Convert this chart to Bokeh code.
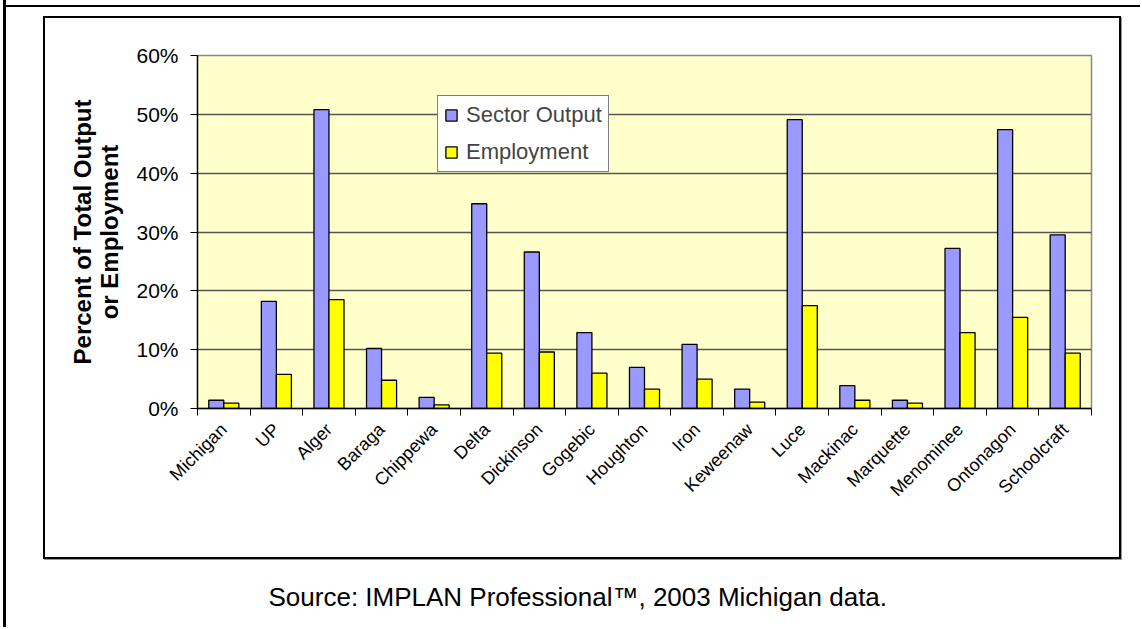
import numpy as np
from math import pi
from bokeh.plotting import figure
from bokeh.models import (ColumnDataSource, Range1d, FixedTicker, NumeralTickFormatter,
                          Legend, LegendItem, Title)
from bokeh.embed import file_html
from bokeh.resources import INLINE

# ---------------- data ----------------
counties = ["Michigan", "UP", "Alger", "Baraga", "Chippewa", "Delta", "Dickinson",
            "Gogebic", "Houghton", "Iron", "Keweenaw", "Luce", "Mackinac",
            "Marquette", "Menominee", "Ontonagon", "Schoolcraft"]
sector_output = [1.4, 18.2, 50.8, 10.2, 1.9, 34.8, 26.6, 12.9, 7.0, 10.9, 3.3,
                 49.1, 3.9, 1.4, 27.2, 47.4, 29.5]
employment = [0.9, 5.8, 18.5, 4.8, 0.6, 9.4, 9.6, 6.0, 3.3, 5.0, 1.1,
              17.5, 1.4, 0.9, 12.9, 15.5, 9.4]
y_ticks = [0, 10, 20, 30, 40, 50, 60]
series_names = ["Sector Output", "Employment"]
y_title = ["Percent of Total Output", "or Employment"]
source_note = "Source: IMPLAN Professional\u2122, 2003 Michigan data."

FONT = "Liberation Sans"
n = len(counties)
bar_w = 1 / 3.5
centers = np.arange(n) + 0.5

src = ColumnDataSource(dict(
    x_out=centers - bar_w / 2,
    x_emp=centers + bar_w / 2,
    out=np.array(sector_output) / 100,
    emp=np.array(employment) / 100,
))

# frame lines of the picture (outer frame, chart-area box) drawn as CSS backgrounds
lines = [  # (x, y, w, h, colour)
    ("3px", "0px", "3px", "100%", "#000"),
    ("3px", "5px", "100%", "2px", "#000"),
    ("43px", "16px", "2px", "543px", "#000"),
    ("43px", "16px", "1078px", "2px", "#000"),
    ("1119px", "16px", "2px", "543px", "#000"),
    ("43px", "557px", "1078px", "2px", "#000"),
    ("1121px", "17px", "1px", "543px", "#999"),
    ("44px", "559px", "1078px", "1px", "#999"),
]
styles = {
    "background-color": "white",
    "background-image": ", ".join(f"linear-gradient({c},{c})" for *_, c in lines),
    "background-size": ", ".join(f"{w} {h}" for _, _, w, h, _ in lines),
    "background-position": ", ".join(f"{x} {y}" for x, y, *_ in lines),
    "background-repeat": "no-repeat",
}

p = figure(width=1140, height=627, output_backend="svg", toolbar_location=None,
           x_range=Range1d(0, n), y_range=Range1d(0, 0.6),
           min_border_left=197, min_border_right=49, min_border_top=55,
           min_border_bottom=219,
           background_fill_color="#FFFFCC", border_fill_color="white",
           border_fill_alpha=0,
           outline_line_color="#888888", outline_line_width=1.5,
           styles=styles)

r1 = p.vbar(x="x_out", top="out", bottom=0, width=bar_w, source=src,
            fill_color="#9999FF", line_color="black", line_width=1.3)
r2 = p.vbar(x="x_emp", top="emp", bottom=0, width=bar_w, source=src,
            fill_color="#FFFF00", line_color="black", line_width=1.3)

# x axis: labels at centres, tick marks at category boundaries
xa = p.xaxis[0]
xa.ticker = FixedTicker(ticks=list(centers), minor_ticks=list(range(n + 1)))
xa.major_label_overrides = {float(c): name for c, name in zip(centers, counties)}
xa.major_label_orientation = pi / 4
xa.major_tick_line_color = None
xa.major_tick_out = 0
xa.major_tick_in = 0
xa.minor_tick_out = 7
xa.minor_tick_in = 0
xa.minor_tick_line_color = "black"
xa.axis_line_color = "black"
xa.axis_line_width = 1.3
xa.major_label_text_font = FONT
xa.major_label_text_font_size = "18px"
xa.major_label_text_color = "black"
xa.major_label_standoff = 11

ya = p.yaxis[0]
ya.ticker = FixedTicker(ticks=[t / 100 for t in y_ticks])
ya.formatter = NumeralTickFormatter(format="0%")
ya.major_tick_out = 7
ya.major_tick_in = 0
ya.minor_tick_line_color = None
ya.axis_line_color = "black"
ya.axis_line_width = 1.3
ya.major_tick_line_color = "black"
ya.major_label_text_font = FONT
ya.major_label_text_font_size = "21px"
ya.major_label_text_color = "black"
ya.major_label_standoff = 12

p.xgrid.visible = False
p.ygrid.grid_line_color = "#555555"
p.ygrid.grid_line_width = 1.4

legend = Legend(items=[LegendItem(label=series_names[0], renderers=[r1]),
                       LegendItem(label=series_names[1], renderers=[r2])],
                location=(240, 236), margin=0, padding=6, spacing=11,
                glyph_width=14, glyph_height=14, label_standoff=8,
                label_text_font=FONT, label_text_font_size="22px",
                border_line_color="black", border_line_width=1,
                background_fill_color="white", background_fill_alpha=1)
p.add_layout(legend)

# y axis title (two lines, inner line first)
p.add_layout(Title(text=y_title[1], align="center", text_font=FONT,
                   text_font_size="24px", text_font_style="bold",
                   text_color="black", standoff=22), "left")
p.add_layout(Title(text=y_title[0], align="center", text_font=FONT,
                   text_font_size="24px", text_font_style="bold",
                   text_color="black", standoff=-26), "left")

# spacer between the axis labels and the source note, then the note itself
p.add_layout(Title(text=" ", text_font_size="2px", standoff=50), "below")
p.add_layout(Title(text=source_note, align="left", offset=71, text_font=FONT,
                   text_font_size="26px", text_font_style="normal",
                   text_color="black", standoff=30), "below")

open("out.html", "w").write(file_html(p, INLINE))
